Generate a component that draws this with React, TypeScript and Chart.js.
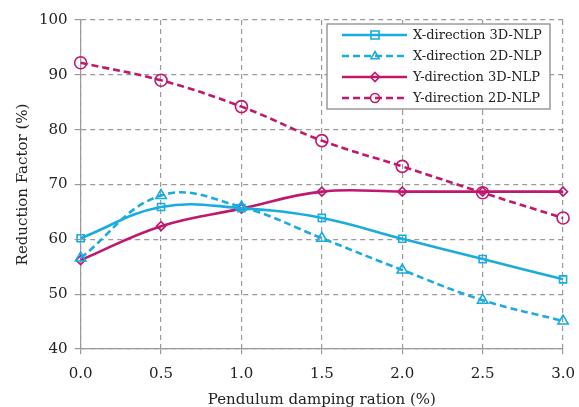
import React, { useEffect, useRef } from "react";
import { Chart, registerables } from "chart.js";
Chart.register(...registerables);

const categories = [0, 0.5, 1.0, 1.5, 2.0, 2.5, 3.0];
const xDir3D = [60.2, 65.9, 65.7, 63.9, 60.1, 56.4, 52.7];
const xDir2D = [56.6, 68.0, 65.9, 60.2, 54.4, 48.9, 45.1];
const yDir3D = [56.2, 62.4, 65.6, 68.7, 68.7, 68.7, 68.7];
const yDir2D = [92.2, 89.0, 84.2, 78.0, 73.3, 68.5, 63.9];
const seriesLabels = ["X-direction 3D-NLP", "X-direction 2D-NLP", "Y-direction 3D-NLP", "Y-direction 2D-NLP"];

const CYAN = "#1AABDF";
const MAG = "#C0186E";
const FONT = "'DejaVu Serif', serif";

function drawMarker(ctx: CanvasRenderingContext2D, style: string, x: number, y: number, r: number, color: string, fill: string) {
  ctx.save();
  ctx.setLineDash([]);
  ctx.strokeStyle = color;
  ctx.fillStyle = fill;
  ctx.lineWidth = 1.6;
  ctx.beginPath();
  if (style === "rect") {
    ctx.rect(x - r * 0.9, y - r * 0.9, r * 1.8, r * 1.8);
  } else if (style === "triangle") {
    ctx.moveTo(x, y - r);
    ctx.lineTo(x + r * 0.9, y + r * 0.6);
    ctx.lineTo(x - r * 0.9, y + r * 0.6);
    ctx.closePath();
  } else if (style === "rectRot") {
    ctx.moveTo(x, y - r);
    ctx.lineTo(x + r, y);
    ctx.lineTo(x, y + r);
    ctx.lineTo(x - r, y);
    ctx.closePath();
  } else {
    ctx.arc(x, y, r, 0, Math.PI * 2);
  }
  ctx.fill();
  ctx.stroke();
  ctx.restore();
}

const legendPlugin = {
  id: "boxLegend",
  afterDraw(chart: any) {
    const ctx = chart.ctx as CanvasRenderingContext2D;
    const bx = 327, by = 24, bw = 223, bh = 85;
    ctx.save();
    ctx.fillStyle = "#ffffff";
    ctx.fillRect(bx, by, bw, bh);
    ctx.strokeStyle = "#9a9a9a";
    ctx.lineWidth = 1.5;
    ctx.setLineDash([]);
    ctx.strokeRect(bx, by, bw, bh);
    chart.data.datasets.forEach((ds: any, i: number) => {
      const y = by + 11 + i * 21;
      ctx.save();
      ctx.strokeStyle = ds.borderColor;
      ctx.lineWidth = ds.borderWidth;
      ctx.setLineDash(ds.borderDash || []);
      ctx.beginPath();
      ctx.moveTo(bx + 15, y);
      ctx.lineTo(bx + 80, y);
      ctx.stroke();
      ctx.restore();
      drawMarker(ctx, ds.pointStyle, bx + 48, y, Math.min(ds.pointRadius, 4.5), ds.borderColor, ds.pointBackgroundColor);
      ctx.fillStyle = "#222";
      ctx.font = `13px ${FONT}`;
      ctx.textBaseline = "middle";
      ctx.fillText(ds.label, bx + 86, y + 1);
    });
    ctx.restore();
  },
};

export default function App() {
  const ref = useRef<HTMLCanvasElement>(null);
  useEffect(() => {
    const common = { tension: 0.4, borderWidth: 2.6, pointBorderWidth: 1.6, fill: false };
    const chart = new Chart(ref.current!, {
      type: "line",
      data: {
        labels: categories.map((c) => c.toFixed(1)),
        datasets: [
          { ...common, label: seriesLabels[0], data: xDir3D, borderColor: CYAN, pointBorderColor: CYAN, pointBackgroundColor: "rgba(255,255,255,0)", pointStyle: "rect", pointRadius: 5 },
          { ...common, label: seriesLabels[1], data: xDir2D, borderColor: CYAN, borderDash: [7, 4], pointBorderColor: CYAN, pointBackgroundColor: "rgba(255,255,255,0)", pointStyle: "triangle", pointRadius: 6 },
          { ...common, label: seriesLabels[2], data: yDir3D, borderColor: MAG, pointBorderColor: MAG, pointBackgroundColor: "rgba(255,255,255,0)", pointStyle: "rectRot", pointRadius: 4.5 },
          { ...common, label: seriesLabels[3], data: yDir2D, borderColor: MAG, borderDash: [7, 4], pointBorderColor: MAG, pointBackgroundColor: "rgba(255,255,255,0)", pointStyle: "circle", pointRadius: 6 },
        ] as any,
      },
      options: {
        animation: false,
        responsive: false,
        maintainAspectRatio: false,
        layout: { padding: { top: 20, right: 6, left: 14, bottom: -2 } },
        plugins: { legend: { display: false }, tooltip: { enabled: false } },
        scales: {
          x: {
            type: "category",
            offset: false,
            grid: { color: "#9a9a9a", lineWidth: 1.2, tickLength: 12, drawTicks: true, tickBorderDash: [5, 100] },
            border: { color: "#9a9a9a", dash: [5, 4], width: 1.2 },
            ticks: { color: "#222", font: { family: FONT, size: 15 }, padding: 4, maxRotation: 0 },
            title: { display: true, text: "Pendulum damping ration (%)", color: "#222", font: { family: FONT, size: 15 }, padding: { top: 4, bottom: 0 } },
          },
          y: {
            min: 40,
            max: 100,
            grid: { color: "#9a9a9a", lineWidth: 1.2, tickLength: 6 },
            border: { color: "#9a9a9a", dash: [5, 4], width: 1.2 },
            ticks: { stepSize: 10, color: "#222", font: { family: FONT, size: 15 }, padding: 7 },
            title: { display: true, text: "Reduction Factor (%)", color: "#222", font: { family: FONT, size: 15 }, padding: { top: 0, bottom: 0 } },
          },
        },
      } as any,
      plugins: [legendPlugin],
    });
    return () => chart.destroy();
  }, []);
  return (
    <div style={{ position: "fixed", left: 0, top: 0, width: 579, height: 407, background: "#fff" }}>
      <canvas ref={ref} width={579} height={407} />
    </div>
  );
}
